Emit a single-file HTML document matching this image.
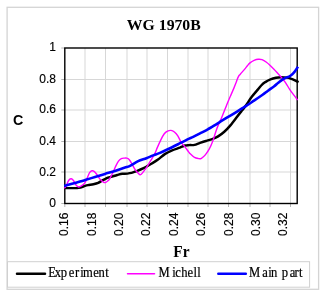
<!DOCTYPE html>
<html><head><meta charset="utf-8"><style>
html,body{margin:0;padding:0;background:#fff;width:323px;height:294px;overflow:hidden}
svg{display:block}
.s{font-family:"Liberation Sans",Arial,sans-serif}
.t{font-family:"Liberation Serif","Times New Roman",serif}
</style></head><body>
<svg width="323" height="294" viewBox="0 0 323 294">
<rect x="7.1" y="7.3" width="311.5" height="282" fill="#fff" stroke="#d4d4d4" stroke-width="1.3"/>
<text class="t" transform="translate(163.8,30.4) scale(1.05,1)" font-size="15" font-weight="bold" text-anchor="middle">WG 1970B</text>
<g stroke="#d7d7d7" stroke-width="1"><line x1="64.8" y1="79.5" x2="297.2" y2="79.5"/><line x1="64.8" y1="110" x2="297.2" y2="110"/><line x1="64.8" y1="141.5" x2="297.2" y2="141.5"/><line x1="64.8" y1="172" x2="297.2" y2="172"/><line x1="85" y1="48" x2="85" y2="203.5"/><line x1="105.5" y1="48" x2="105.5" y2="203.5"/><line x1="127" y1="48" x2="127" y2="203.5"/><line x1="147" y1="48" x2="147" y2="203.5"/><line x1="167.5" y1="48" x2="167.5" y2="203.5"/><line x1="188" y1="48" x2="188" y2="203.5"/><line x1="208" y1="48" x2="208" y2="203.5"/><line x1="228.5" y1="48" x2="228.5" y2="203.5"/><line x1="250" y1="48" x2="250" y2="203.5"/><line x1="270" y1="48" x2="270" y2="203.5"/><line x1="290.5" y1="48" x2="290.5" y2="203.5"/></g>
<g stroke="#b4b4b4" stroke-width="1"><line x1="61.3" y1="48" x2="64.8" y2="48"/><line x1="61.3" y1="79.5" x2="64.8" y2="79.5"/><line x1="61.3" y1="110" x2="64.8" y2="110"/><line x1="61.3" y1="141.5" x2="64.8" y2="141.5"/><line x1="61.3" y1="172" x2="64.8" y2="172"/><line x1="61.3" y1="203.5" x2="64.8" y2="203.5"/><line x1="64.8" y1="203.5" x2="64.8" y2="207"/><line x1="85" y1="203.5" x2="85" y2="207"/><line x1="105.5" y1="203.5" x2="105.5" y2="207"/><line x1="127" y1="203.5" x2="127" y2="207"/><line x1="147" y1="203.5" x2="147" y2="207"/><line x1="167.5" y1="203.5" x2="167.5" y2="207"/><line x1="188" y1="203.5" x2="188" y2="207"/><line x1="208" y1="203.5" x2="208" y2="207"/><line x1="228.5" y1="203.5" x2="228.5" y2="207"/><line x1="250" y1="203.5" x2="250" y2="207"/><line x1="270" y1="203.5" x2="270" y2="207"/><line x1="290.5" y1="203.5" x2="290.5" y2="207"/></g>
<rect x="64.8" y="48" width="232.4" height="155.5" fill="none" stroke="#000" stroke-width="1.4"/>
<g fill="none" stroke-linejoin="round" stroke-linecap="butt">
<path d="M64.2,188.1 C65.5,188.1 69.6,188.1 72.0,188.1 C74.4,188.1 76.4,188.3 78.6,187.9 C80.8,187.5 83.4,186.4 85.0,185.9 C86.6,185.4 86.6,185.4 88.0,185.1 C89.4,184.8 91.7,184.6 93.4,184.2 C95.1,183.8 96.8,183.4 98.2,182.8 C99.6,182.2 100.9,181.3 102.0,180.7 C103.1,180.1 104.0,179.6 105.0,179.1 C106.0,178.6 107.0,178.1 108.0,177.7 C109.0,177.3 109.6,177.2 111.1,176.8 C112.6,176.4 115.3,175.5 117.2,175.0 C119.1,174.5 120.6,174.0 122.3,173.8 C124.0,173.6 125.9,173.8 127.4,173.6 C128.9,173.4 130.2,173.2 131.5,172.9 C132.8,172.6 133.5,172.3 135.5,171.5 C137.5,170.7 140.9,169.5 143.6,168.2 C146.3,166.9 149.4,164.9 151.8,163.5 C154.2,162.1 155.8,161.2 158.0,159.6 C160.2,158.0 162.5,155.6 164.8,154.1 C167.1,152.6 169.1,151.7 171.6,150.6 C174.1,149.5 177.6,148.5 179.8,147.7 C182.0,146.8 183.4,145.9 185.0,145.5 C186.6,145.1 187.5,145.2 189.1,145.1 C190.7,145.0 192.7,145.3 194.5,144.9 C196.3,144.5 197.9,143.5 200.0,142.8 C202.1,142.1 204.7,141.3 206.8,140.7 C208.9,140.0 210.9,139.6 212.8,138.9 C214.7,138.2 216.2,137.6 218.1,136.4 C220.0,135.2 222.2,133.5 224.3,131.7 C226.4,129.9 228.4,127.8 230.4,125.4 C232.4,123.0 234.7,119.9 236.5,117.5 C238.3,115.1 240.1,112.8 241.5,111.1 C242.9,109.3 243.7,108.5 244.8,107.0 C245.9,105.5 246.9,104.1 248.0,102.4 C249.1,100.7 250.1,99.0 251.6,97.0 C253.1,95.0 255.5,92.3 257.1,90.4 C258.7,88.5 259.8,86.9 261.2,85.5 C262.6,84.1 263.8,83.1 265.3,82.1 C266.9,81.1 268.7,80.1 270.5,79.4 C272.3,78.7 274.2,78.2 276.0,77.8 C277.8,77.4 279.2,77.3 281.0,77.3 C282.8,77.3 285.2,77.3 287.0,77.6 C288.8,77.8 290.0,78.3 291.5,78.8 C293.0,79.3 294.8,80.2 296.0,80.8 C297.2,81.4 298.2,82.0 298.6,82.2" stroke="#000" stroke-width="2.45"/>
<path d="M64.3,188.3 C64.6,187.9 65.8,186.7 66.3,185.8 C66.8,184.9 67.0,183.7 67.5,182.7 C68.0,181.7 68.4,180.7 69.0,180.0 C69.6,179.3 70.5,178.8 71.2,178.8 C71.9,178.8 72.4,179.4 73.0,180.0 C73.6,180.6 74.1,181.5 74.6,182.3 C75.1,183.1 75.3,183.9 75.8,184.6 C76.2,185.3 76.8,185.9 77.3,186.3 C77.8,186.7 78.1,187.1 78.8,187.0 C79.5,186.9 80.3,186.6 81.3,185.9 C82.3,185.2 83.8,184.3 84.9,182.8 C86.0,181.3 86.9,178.5 87.7,176.8 C88.5,175.1 88.9,173.6 89.6,172.6 C90.3,171.6 91.2,171.0 92.0,170.8 C92.8,170.6 93.5,170.9 94.4,171.6 C95.3,172.3 96.2,173.7 97.2,175.0 C98.2,176.3 99.1,178.1 100.1,179.2 C101.1,180.3 102.1,181.2 103.0,181.8 C103.9,182.4 104.5,182.8 105.3,182.6 C106.1,182.4 107.2,181.5 108.0,180.8 C108.8,180.1 109.3,179.3 110.0,178.2 C110.7,177.1 111.2,176.1 112.1,174.3 C113.0,172.5 114.2,169.5 115.2,167.3 C116.2,165.2 117.3,162.8 118.3,161.4 C119.3,160.0 120.3,159.2 121.3,158.7 C122.3,158.1 123.5,158.2 124.4,158.1 C125.3,158.0 126.1,157.9 126.9,158.2 C127.8,158.5 128.7,159.0 129.5,160.0 C130.3,161.0 131.1,162.4 132.0,164.0 C132.9,165.6 134.0,167.9 135.0,169.4 C136.0,170.9 137.3,172.3 138.2,173.2 C139.1,174.1 139.5,174.7 140.2,174.7 C140.9,174.7 141.3,174.3 142.3,173.1 C143.3,171.9 145.0,169.7 146.4,167.7 C147.8,165.7 149.1,163.2 150.5,160.9 C151.9,158.6 153.5,156.2 154.6,154.0 C155.7,151.8 156.3,149.9 157.3,147.6 C158.3,145.3 159.6,142.4 160.7,140.1 C161.8,137.8 163.0,135.5 164.1,134.0 C165.2,132.5 166.3,131.8 167.5,131.2 C168.7,130.6 169.8,130.3 171.0,130.4 C172.2,130.5 173.3,131.1 174.4,132.0 C175.5,132.9 176.7,134.1 177.8,135.8 C178.9,137.6 180.1,140.7 181.2,142.5 C182.3,144.3 183.5,145.0 184.6,146.4 C185.7,147.8 186.8,149.4 187.8,150.7 C188.8,152.0 189.4,153.0 190.5,154.1 C191.6,155.2 193.2,156.7 194.5,157.4 C195.8,158.2 197.4,158.4 198.6,158.6 C199.8,158.8 200.2,159.0 201.4,158.3 C202.6,157.6 204.2,156.2 205.5,154.6 C206.8,153.0 208.1,151.2 209.3,148.9 C210.6,146.6 211.7,144.0 213.0,140.5 C214.3,137.0 215.6,131.8 217.1,127.9 C218.6,124.0 220.2,120.9 221.8,117.2 C223.4,113.5 225.0,109.2 226.4,105.7 C227.8,102.2 229.2,99.0 230.5,96.0 C231.8,93.0 233.1,89.9 234.1,87.6 C235.1,85.3 235.6,83.8 236.3,82.0 C237.0,80.2 237.7,77.9 238.4,76.6 C239.1,75.3 239.3,75.4 240.3,74.2 C241.3,73.0 243.1,71.0 244.3,69.6 C245.5,68.2 246.5,66.8 247.4,65.7 C248.3,64.6 248.9,63.8 250.0,62.9 C251.1,62.0 252.7,61.0 254.1,60.4 C255.5,59.8 256.9,59.4 258.2,59.3 C259.5,59.2 260.7,59.2 262.0,59.7 C263.3,60.2 264.7,61.0 266.1,62.0 C267.5,63.0 268.9,64.2 270.2,65.5 C271.5,66.8 272.8,68.1 274.2,69.5 C275.6,70.9 277.0,72.6 278.3,74.0 C279.6,75.4 280.7,76.6 281.9,78.0 C283.1,79.4 284.1,80.6 285.5,82.6 C286.9,84.6 288.5,87.7 290.0,89.9 C291.5,92.1 293.2,94.2 294.5,95.9 C295.8,97.6 297.1,99.4 297.6,100.1" stroke="#ff00ff" stroke-width="1.4"/>
<path d="M64.2,186.0 C65.5,185.6 69.4,184.5 72.0,183.8 C74.6,183.1 77.8,182.2 80.0,181.6 C82.2,181.0 82.5,180.9 85.0,180.1 C87.5,179.3 91.7,178.0 95.0,177.0 C98.3,176.0 101.7,174.9 105.0,173.9 C108.3,172.9 111.7,172.0 115.0,170.9 C118.3,169.8 122.5,168.4 125.0,167.6 C127.5,166.8 127.8,166.9 130.0,165.8 C132.2,164.7 135.5,162.5 138.2,161.2 C140.9,159.9 143.9,159.2 146.4,158.2 C148.9,157.2 150.9,156.3 153.2,155.4 C155.5,154.5 156.9,154.2 160.0,152.9 C163.1,151.6 168.3,149.1 171.6,147.5 C174.9,145.9 177.3,144.6 180.0,143.2 C182.7,141.8 185.8,140.3 188.0,139.2 C190.2,138.1 191.0,137.9 193.2,136.8 C195.4,135.7 198.9,134.0 201.4,132.7 C203.9,131.4 206.1,130.3 208.2,129.1 C210.3,127.9 212.1,126.9 214.0,125.7 C215.9,124.5 217.5,123.5 219.7,122.1 C221.9,120.7 224.8,119.0 227.3,117.4 C229.9,115.9 232.6,114.3 235.0,112.8 C237.4,111.3 240.1,109.6 242.0,108.4 C243.9,107.2 244.1,107.2 246.2,105.9 C248.3,104.6 251.7,102.2 254.4,100.4 C257.1,98.6 260.3,96.4 262.6,94.8 C264.9,93.2 266.1,92.1 268.0,90.7 C269.9,89.3 272.5,87.6 274.2,86.3 C275.9,85.0 276.9,83.8 278.3,82.7 C279.7,81.6 281.0,80.5 282.4,79.6 C283.8,78.7 285.3,77.9 286.5,77.4 C287.7,76.9 288.7,76.9 289.6,76.4 C290.5,75.9 291.2,75.2 292.0,74.5 C292.8,73.8 293.5,73.2 294.5,71.9 C295.5,70.6 297.4,67.6 298.0,66.7" stroke="#0000ff" stroke-width="2.6"/>
</g>
<g class="s" font-size="12" text-anchor="end" fill="#000" stroke="#000" stroke-width="0.15"><text x="56" y="51.3">1</text><text x="56" y="82.5">0.8</text><text x="56" y="113.1">0.6</text><text x="56" y="144.7">0.4</text><text x="56" y="175.7">0.2</text><text x="56" y="207.1">0</text></g>
<g class="s" font-size="12" text-anchor="end" fill="#000" stroke="#000" stroke-width="0.15"><text transform="translate(68.2,212.6) rotate(-90)">0.16</text><text transform="translate(95.608,212.6) rotate(-90)">0.18</text><text transform="translate(123.016,212.6) rotate(-90)">0.20</text><text transform="translate(150.424,212.6) rotate(-90)">0.22</text><text transform="translate(177.832,212.6) rotate(-90)">0.24</text><text transform="translate(205.24,212.6) rotate(-90)">0.26</text><text transform="translate(232.648,212.6) rotate(-90)">0.28</text><text transform="translate(260.056,212.6) rotate(-90)">0.30</text><text transform="translate(287.464,212.6) rotate(-90)">0.32</text></g>
<text class="s" transform="translate(12.9,124.8) scale(0.92,1)" font-size="15.5" font-weight="bold">C</text>
<text class="t" transform="translate(181.4,257) scale(0.96,1)" font-size="16" font-weight="bold" text-anchor="middle">Fr</text>
<rect x="7.5" y="261.7" width="302.1" height="25.5" fill="#fff" stroke="#d0d0d0" stroke-width="1"/>
<g stroke-width="2.5" stroke-linecap="round">
<line x1="17" y1="273.8" x2="45" y2="273.8" stroke="#000"/>
<line x1="127.5" y1="273.8" x2="154.5" y2="273.8" stroke="#ff00ff" stroke-width="1.5"/>
<line x1="218.3" y1="273.8" x2="245.8" y2="273.8" stroke="#0000ff"/>
</g>
<g class="t" font-size="14" fill="#000" stroke="#000" stroke-width="0.2" transform="scale(0.9,1)">
<text x="53.71 60.88 67.44 76.45 83.28 89.26 92.26 103.56 109.46 116.86" y="277.1">Experiment</text>
<text x="176.15 191.48 194.80 201.31 208.34 215.05 219.28" y="277.1">Michell</text>
<text x="276.60 291.29 298.04 301.23 306.67 313.11 321.95 327.28 332.20" y="277.1">Main part</text>
</g>
</svg>
</body></html>
